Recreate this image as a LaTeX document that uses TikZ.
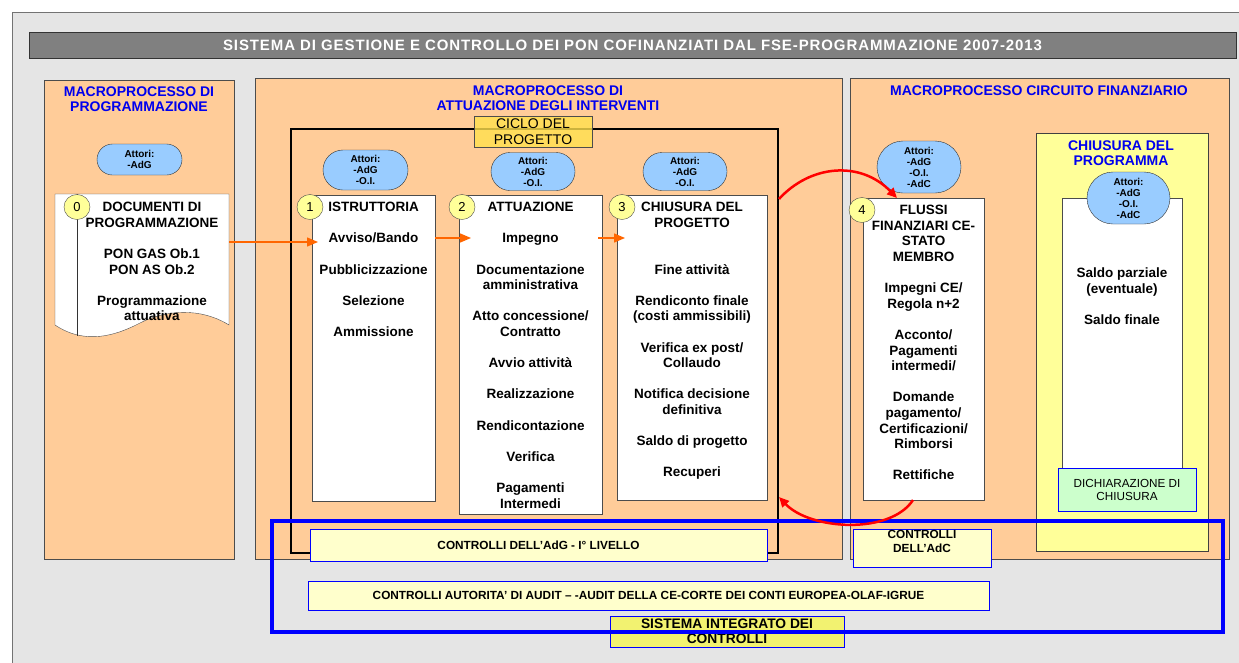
\documentclass[tikz,border=0pt]{standalone}
\usepackage{fontspec}
\setmainfont{Liberation Sans}
\newfontfamily\spaziata{Liberation Sans}[LetterSpace=6]
\usetikzlibrary{shapes.misc,shapes.geometric,arrows.meta}

\definecolor{panelgrey}{HTML}{E5E5E5}
\definecolor{bargrey}{HTML}{808080}
\definecolor{peach}{HTML}{FFCC99}
\definecolor{attblue}{HTML}{99CCFF}
\definecolor{numyellow}{HTML}{FFFF99}
\definecolor{chiusyellow}{HTML}{FFFF99}
\definecolor{ctrlyellow}{HTML}{FFFFCC}
\definecolor{sisyellow}{HTML}{F2F270}
\definecolor{cicloyellow}{HTML}{FFE04D}
\definecolor{dichgreen}{HTML}{CCFFCC}
\definecolor{headblue}{HTML}{0000EE}
\definecolor{arrorange}{HTML}{FF6600}

\begin{document}
\begin{tikzpicture}[x=1pt, y=-1pt,
    macro/.style={draw=black!70, fill=peach, inner sep=0pt},
    stepbox/.style={draw=black!70, fill=white, inner sep=0pt},
    attori/.style={rounded rectangle, draw=black!80, fill=attblue, inner sep=0pt, align=center, font=\fontsize{10}{11}\selectfont\bfseries},
    numero/.style={ellipse, draw=black!70, fill=numyellow, minimum width=26pt, minimum height=25pt, inner sep=0pt, font=\fontsize{13}{13}\selectfont},
    voci/.style={anchor=north, align=center, inner sep=0pt, font=\fontsize{13.5}{15.6}\selectfont\bfseries},
    intest/.style={align=center, inner sep=0pt, text=headblue, font=\fontsize{14}{15}\selectfont\bfseries},
    controllo/.style={draw=blue, fill=ctrlyellow, inner sep=0pt, align=center, font=\fontsize{11.8}{13.5}\selectfont\bfseries},
    freccia/.style={draw=arrorange, line width=1.4pt, -{Triangle[length=11pt,width=9pt]}},
    ritorno/.style={draw=red, line width=2.5pt, -{Triangle[length=10pt,width=9pt]}}
]
    \useasboundingbox (0,0) rectangle (1239,662);

    % background and title
    \draw[draw=black!55, fill=panelgrey, line width=1pt] (12,12) rectangle (1270,700);
    \node[draw=black!80, fill=bargrey, minimum width=1207pt, minimum height=26pt, inner sep=0pt, text=white, font=\spaziata\fontsize{15}{16}\selectfont\bfseries] at (632.5,45) (titolo) {SISTEMA DI GESTIONE E CONTROLLO DEI PON COFINANZIATI DAL FSE-PROGRAMMAZIONE 2007-2013};

    % macroprocessi
    \node[macro, minimum width=190pt, minimum height=479pt] at (139,319.5) (mprog) {};
    \node[macro, minimum width=587pt, minimum height=481pt] at (548.5,318.5) (matt) {};
    \node[macro, minimum width=379pt, minimum height=481pt] at (1039.5,318.5) (mfin) {};
    \node[draw=black!75, fill=chiusyellow, minimum width=172pt, minimum height=418pt, inner sep=0pt] at (1122,342) (chiusprog) {};

    \node[intest] at (139,99) (hprog) {MACROPROCESSO DI\\PROGRAMMAZIONE};
    \node[intest] at (548,98) (hatt) {MACROPROCESSO DI\\ATTUAZIONE DEGLI INTERVENTI};
    \node[intest] at (1039,91) (hfin) {MACROPROCESSO CIRCUITO FINANZIARIO};
    \node[intest] at (1121,153) (hchius) {CHIUSURA DEL\\PROGRAMMA};

    % ciclo del progetto
    \node[draw=black, line width=2.5pt, minimum width=487pt, minimum height=424pt, inner sep=0pt] at (534.5,341) (ciclo) {};
    \node[draw=black!70, fill=cicloyellow, fill opacity=0.8, text opacity=1, minimum width=118pt, minimum height=31pt, inner sep=0pt, align=center, font=\fontsize{14}{16}\selectfont] at (533,131.5) (ciclolab) {CICLO DEL\\PROGETTO};

    % documento di programmazione
    \draw[draw=black!70, fill=white] (55,194) -- (229,194) -- (229,325)
        .. controls (200,307) and (165,310) .. (140,323)
        .. controls (115,336) and (85,345) .. (55,325) -- cycle;
    \draw[black!80] (77,194) -- (77,336);

    % fasi
    \node[stepbox, minimum width=123pt, minimum height=306pt] at (373.5,348) (b1) {};
    \node[stepbox, minimum width=143pt, minimum height=319pt] at (530.5,354.5) (b2) {};
    \node[stepbox, minimum width=150pt, minimum height=305pt] at (692,347.5) (b3) {};
    \node[stepbox, minimum width=121pt, minimum height=302pt] at (923.5,349) (b4) {};
    \node[stepbox, minimum width=120pt, minimum height=272pt] at (1122,334) (b5) {};

    \node[voci] at (152,202) (t0) {DOCUMENTI DI\\PROGRAMMAZIONE\\[15.6pt]PON GAS Ob.1\\PON AS Ob.2\\[15.6pt]Programmazione\\attuativa};
    \node[voci] at (373.5,202) (t1) {ISTRUTTORIA\\[15.6pt]Avviso/Bando\\[15.6pt]Pubblicizzazione\\[15.6pt]Selezione\\[15.6pt]Ammissione};
    \node[voci] at (530.5,202) (t2) {ATTUAZIONE\\[15.6pt]Impegno\\[15.6pt]Documentazione\\amministrativa\\[15.6pt]Atto concessione/\\Contratto\\[15.6pt]Avvio attività\\[15.6pt]Realizzazione\\[15.6pt]Rendicontazione\\[15.6pt]Verifica\\[15.6pt]Pagamenti\\Intermedi};
    \node[voci] at (692,202) (t3) {CHIUSURA DEL\\PROGETTO\\[31.2pt]Fine attività\\[15.6pt]Rendiconto finale\\(costi ammissibili)\\[15.6pt]Verifica ex post/\\Collaudo\\[15.6pt]Notifica decisione\\definitiva\\[15.6pt]Saldo di progetto\\[15.6pt]Recuperi};
    \node[voci] at (923.5,205) (t4) {FLUSSI\\FINANZIARI CE-\\STATO\\MEMBRO\\[15.6pt]Impegni CE/\\Regola n+2\\[15.6pt]Acconto/\\Pagamenti\\intermedi/\\[15.6pt]Domande\\pagamento/\\Certificazioni/\\Rimborsi\\[15.6pt]Rettifiche};
    \node[voci] at (1122,268) (t5) {Saldo parziale\\(eventuale)\\[15.6pt]Saldo finale};

    \node[draw=blue, fill=dichgreen, minimum width=138pt, minimum height=43pt, inner sep=0pt, align=center, font=\fontsize{11.7}{13}\selectfont] at (1127,489.5) (dich) {DICHIARAZIONE DI\\CHIUSURA};

    % attori
    \node[attori, minimum width=85pt, minimum height=31pt] at (139.5,159.5) (a0) {Attori:\\-AdG};
    \node[attori, minimum width=85pt, minimum height=40pt] at (365.5,170) (a1) {Attori:\\-AdG\\-O.I.};
    \node[attori, minimum width=84pt, minimum height=38pt] at (533,171.5) (a2) {Attori:\\-AdG\\-O.I.};
    \node[attori, minimum width=84pt, minimum height=38pt] at (685,171.5) (a3) {Attori:\\-AdG\\-O.I.};
    \node[attori, minimum width=84pt, minimum height=52pt] at (919,167) (a4) {Attori:\\-AdG\\-O.I.\\-AdC};
    \node[attori, minimum width=83pt, minimum height=52pt] at (1128.5,198) (a5) {Attori:\\-AdG\\-O.I.\\-AdC};

    % numeri
    \node[numero] at (77,207) (n0) {0};
    \node[numero] at (310,207) (n1) {1};
    \node[numero] at (462,207) (n2) {2};
    \node[numero] at (622,207) (n3) {3};
    \node[numero] at (862,210) (n4) {4};

    % flusso
    \coordinate (d0out) at (229,242);
    \coordinate (b1in) at (318,242);
    \coordinate (b1out) at (435,238);
    \coordinate (b2in) at (471,238);
    \coordinate (b2out) at (598,238);
    \coordinate (b3in) at (625,238);
    \draw[freccia] (d0out) -- (b1in);
    \draw[freccia] (b1out) -- (b2in);
    \draw[freccia] (b2out) -- (b3in);

    % controlli
    \node[controllo, minimum width=457pt, minimum height=32pt] at (538.5,545) (cadg) {CONTROLLI DELL’AdG - I° LIVELLO};
    \node[controllo, minimum width=138pt, minimum height=38pt] at (922,548) (cadc) {};
    \node[align=center, inner sep=0pt, font=\fontsize{11.8}{14}\selectfont\bfseries] at (922,541) (cadctxt) {CONTROLLI\\DELL’AdC};
    \node[controllo, minimum width=681pt, minimum height=29pt] at (648.5,595.5) (caudit) {CONTROLLI AUTORITA’ DI AUDIT – -AUDIT DELLA CE-CORTE DEI CONTI EUROPEA-OLAF-IGRUE};
    \node[draw=blue, fill=sisyellow, minimum width=234pt, minimum height=31pt, inner sep=0pt, align=center, font=\fontsize{13.8}{15}\selectfont\bfseries] at (727,631.5) (sis) {SISTEMA INTEGRATO DEI\\CONTROLLI};
    \draw[blue, line width=3.5pt] (272,521) rectangle (1223,632);

    % circuito finanziario
    \coordinate (r1s) at (779,199);
    \coordinate (r1e) at (897,198);
    \coordinate (r2s) at (913,500);
    \coordinate (r2e) at (779,497);
    \draw[ritorno] (r1s) .. controls (810,165) and (860,160) .. (r1e);
    \draw[ritorno] (r2s) .. controls (890,535) and (810,530) .. (r2e);
\end{tikzpicture}
\end{document}
